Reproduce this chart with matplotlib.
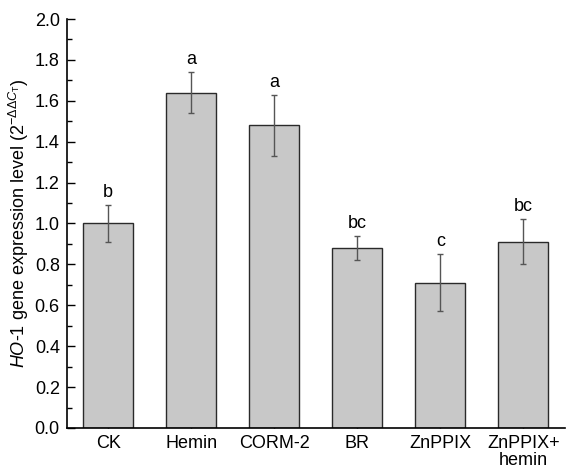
import numpy as np
import matplotlib.pyplot as plt
from matplotlib.ticker import MultipleLocator

plt.rcParams['font.family'] = ['Liberation Sans', 'DejaVu Sans']
plt.rcParams['mathtext.fontset'] = 'custom'
plt.rcParams['mathtext.rm'] = 'Liberation Sans'
plt.rcParams['mathtext.it'] = 'Liberation Sans:italic'

# data
groups = ["CK", "Hemin", "CORM-2", "BR", "ZnPPIX", "ZnPPIX+\nhemin"]
means = [1.00, 1.64, 1.48, 0.88, 0.71, 0.91]
errs = [0.09, 0.10, 0.15, 0.06, 0.14, 0.11]
letters = ["b", "a", "a", "bc", "c", "bc"]

fig = plt.figure(figsize=(5.66, 4.75), dpi=100)
ax = fig.add_axes([0.118, 0.099, 0.880, 0.861])

x = np.arange(len(groups))
ax.bar(x, means, width=0.6, color="#c8c8c8", edgecolor="#2a2a2a", linewidth=1.0, zorder=2)
ax.errorbar(x, means, yerr=errs, fmt="none", ecolor="#555555", elinewidth=1.0,
            capsize=2.5, capthick=1.0, zorder=3)

for xi, m, e, lab in zip(x, means, errs, letters):
    ax.text(xi, m + e + 0.02, lab, ha="center", va="bottom", fontsize=13)

ax.set_xlim(-0.5, 5.5)
ax.set_ylim(0, 2.0)
ax.set_xticks(x)
ax.set_xticklabels(groups, fontsize=13, linespacing=1.0)
ax.yaxis.set_minor_locator(MultipleLocator(0.1))
ax.set_yticks(np.arange(0, 2.01, 0.2))
ax.set_yticklabels([f"{v:.1f}" for v in np.arange(0, 2.01, 0.2)], fontsize=13)
ax.tick_params(axis="both", which="major", direction="in", length=6, width=1, pad=5)
ax.tick_params(axis="y", which="minor", direction="in", length=3.5, width=1)

for s in ["top", "right"]:
    ax.spines[s].set_visible(False)
for s in ["left", "bottom"]:
    ax.spines[s].set_linewidth(1.2)

ax.set_ylabel(r"$\mathit{HO}$-$\mathit{1}$ gene expression level (2$^{-\Delta\Delta C_\mathrm{T}}$)",
              fontsize=13, labelpad=3)

fig.savefig("out.png", dpi=100)
